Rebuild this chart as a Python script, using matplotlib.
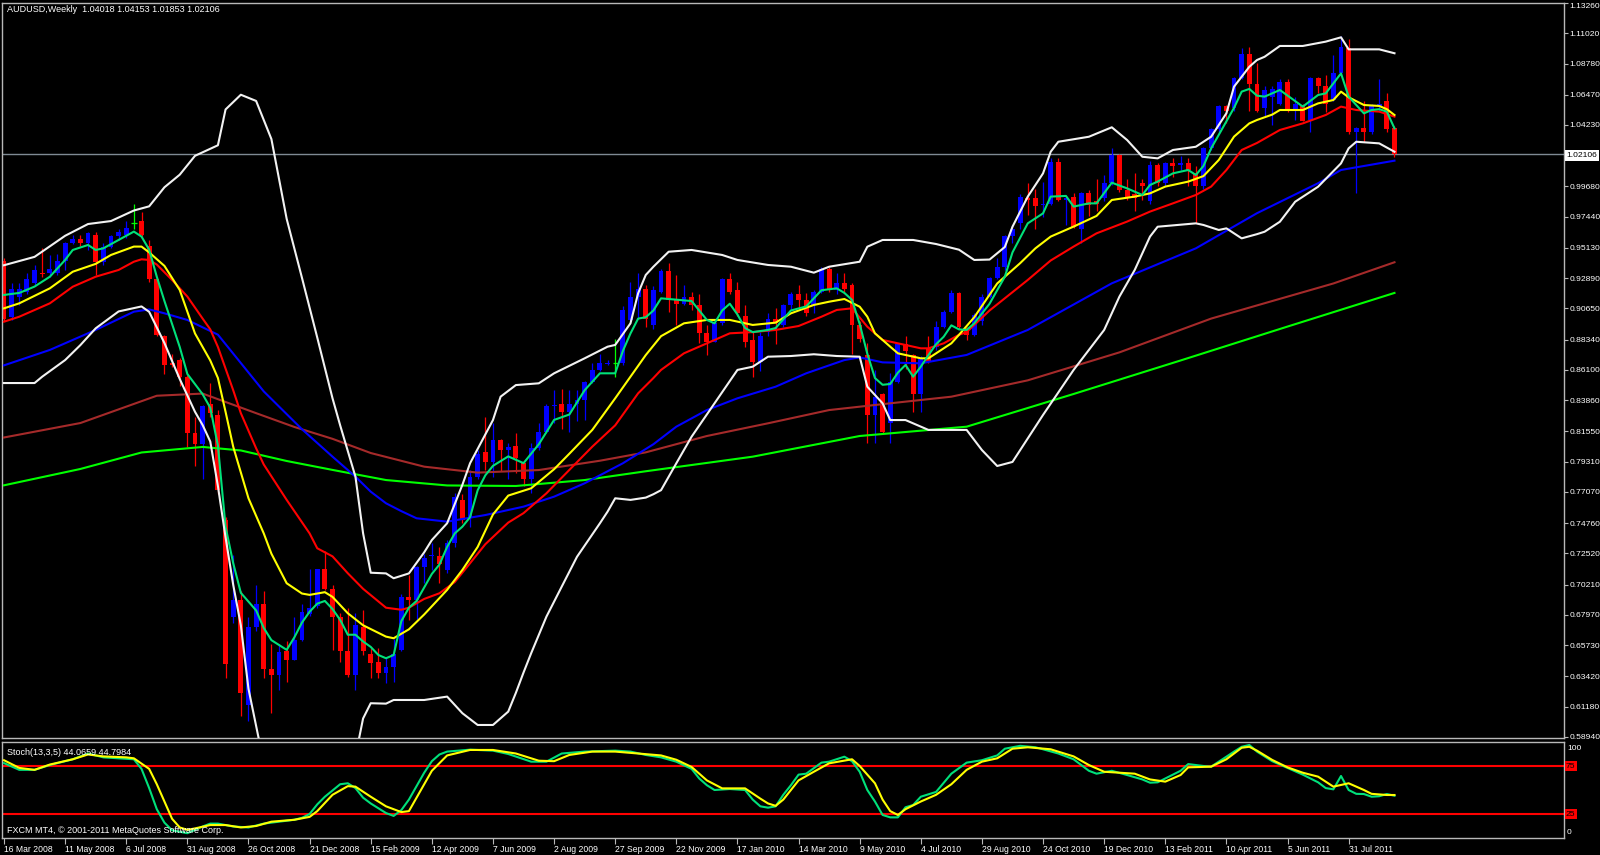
import matplotlib
matplotlib.use("Agg")
import matplotlib.pyplot as plt
import numpy as np

plt.rcParams['font.family'] = ['Liberation Sans', 'DejaVu Sans']

# ---------------- data: weekly AUDUSD candles (week 0 = 16 Mar 2008) ----------------
opens = [
0.942,0.900,0.915,0.919,0.925,0.933,0.933,0.933,0.942,0.955,
0.958,0.955,0.961,0.941,0.952,0.960,0.961,0.970,0.971,0.953,
0.928,0.886,0.866,0.868,0.856,0.8145,0.806,0.836,0.828,0.750,
0.678,0.691,0.613,0.671,0.688,0.640,0.635,0.653,0.646,0.661,
0.680,0.686,0.714,0.699,0.678,0.653,0.635,0.671,0.651,0.645,
0.637,0.641,0.654,0.693,0.691,0.715,0.723,0.723,0.713,0.733,
0.765,0.752,0.782,0.800,0.793,0.809,0.802,0.805,0.792,0.780,
0.803,0.815,0.834,0.836,0.830,0.836,0.839,0.852,0.861,0.8655,
0.866,0.866,0.898,0.915,0.921,0.894,0.919,0.934,0.913,0.910,
0.915,0.909,0.888,0.882,0.896,0.928,0.920,0.901,0.883,0.867,
0.889,0.899,0.894,0.909,0.917,0.913,0.909,0.919,0.936,0.920,
0.925,0.924,0.894,0.872,0.828,0.843,0.822,0.852,0.880,0.872,
0.843,0.877,0.878,0.893,0.904,0.918,0.892,0.887,0.897,0.915,
0.929,0.937,0.960,0.970,0.988,0.988,0.983,0.984,1.015,0.987,
0.989,0.965,0.992,0.986,0.988,0.999,1.020,0.994,0.991,0.999,
0.986,1.013,0.999,1.014,1.013,1.014,1.007,0.997,1.025,1.039,
1.056,1.055,1.077,1.095,1.073,1.055,1.063,1.058,1.074,1.053,
1.057,1.046,1.077,1.071,1.061,1.081,1.099,1.037,1.040,1.037,
1.056,1.060,1.04018]

highs = [
0.944,0.925,0.925,0.933,0.939,0.951,0.946,0.947,0.956,0.961,
0.961,0.963,0.963,0.955,0.961,0.965,0.971,0.984,0.978,0.957,
0.929,0.887,0.873,0.870,0.857,0.826,0.835,0.851,0.831,0.752,
0.724,0.697,0.678,0.702,0.697,0.658,0.658,0.660,0.678,0.688,
0.714,0.714,0.727,0.702,0.681,0.685,0.681,0.683,0.655,0.655,
0.648,0.662,0.695,0.709,0.716,0.725,0.733,0.730,0.735,0.770,
0.769,0.787,0.802,0.826,0.822,0.810,0.807,0.814,0.793,0.807,
0.822,0.836,0.846,0.847,0.846,0.846,0.853,0.866,0.873,0.868,
0.884,0.908,0.926,0.9325,0.924,0.923,0.936,0.940,0.931,0.924,
0.919,0.917,0.894,0.898,0.929,0.933,0.926,0.909,0.889,0.889,
0.903,0.907,0.910,0.919,0.924,0.918,0.920,0.937,0.937,0.933,
0.933,0.925,0.897,0.881,0.861,0.844,0.859,0.881,0.886,0.873,
0.871,0.886,0.897,0.905,0.920,0.919,0.893,0.903,0.917,0.930,
0.944,0.961,0.968,0.991,0.999,0.995,1.000,1.018,1.018,0.989,
0.992,0.993,0.994,1.002,1.005,1.025,1.021,1.002,1.007,1.002,
1.016,1.014,1.015,1.018,1.019,1.018,1.012,1.026,1.040,1.057,
1.057,1.078,1.099,1.100,1.088,1.071,1.071,1.076,1.076,1.063,
1.058,1.078,1.078,1.079,1.094,1.108,1.106,1.041,1.060,1.058,
1.076,1.066,1.04153]

lows = [
0.897,0.898,0.909,0.917,0.923,0.930,0.930,0.931,0.935,0.954,
0.953,0.950,0.931,0.939,0.951,0.957,0.959,0.965,0.960,0.926,
0.886,0.858,0.863,0.849,0.804,0.790,0.780,0.826,0.769,0.633,
0.674,0.605,0.601,0.668,0.633,0.607,0.624,0.630,0.646,0.660,
0.679,0.685,0.698,0.654,0.645,0.634,0.624,0.650,0.633,0.633,
0.629,0.630,0.653,0.676,0.677,0.703,0.713,0.703,0.711,0.730,
0.748,0.745,0.780,0.787,0.782,0.786,0.780,0.785,0.775,0.770,
0.802,0.814,0.822,0.817,0.815,0.823,0.824,0.851,0.860,0.865,
0.856,0.865,0.897,0.899,0.893,0.891,0.918,0.904,0.894,0.909,
0.905,0.881,0.872,0.882,0.894,0.917,0.901,0.878,0.856,0.860,
0.886,0.880,0.893,0.905,0.905,0.901,0.903,0.918,0.919,0.917,
0.918,0.873,0.882,0.807,0.807,0.814,0.807,0.851,0.862,0.830,
0.830,0.866,0.876,0.892,0.903,0.891,0.883,0.886,0.894,0.914,
0.928,0.935,0.955,0.965,0.976,0.965,0.974,0.983,0.986,0.968,
0.966,0.955,0.975,0.979,0.986,0.998,0.993,0.987,0.979,0.987,
0.984,0.997,0.997,1.004,1.009,0.997,0.970,0.995,1.024,1.037,
1.044,1.053,1.076,1.053,1.052,1.049,1.042,1.057,1.052,1.046,
1.045,1.037,1.066,1.052,1.060,1.079,1.036,0.992,1.030,1.036,
1.053,1.037,1.01853]

closes = [
0.899,0.921,0.921,0.928,0.935,0.932,0.936,0.942,0.955,0.958,
0.955,0.962,0.941,0.952,0.960,0.963,0.966,0.970,0.961,0.928,
0.887,0.865,0.865,0.856,0.814,0.806,0.834,0.829,0.772,0.643,
0.691,0.622,0.671,0.688,0.640,0.635,0.652,0.646,0.661,0.682,
0.685,0.714,0.699,0.678,0.653,0.635,0.672,0.653,0.644,0.637,
0.641,0.651,0.693,0.691,0.715,0.722,0.724,0.717,0.733,0.767,
0.750,0.782,0.799,0.793,0.809,0.802,0.804,0.796,0.780,0.803,
0.815,0.834,0.835,0.830,0.836,0.839,0.852,0.861,0.866,0.866,
0.866,0.905,0.915,0.921,0.899,0.920,0.934,0.913,0.910,0.915,
0.909,0.888,0.882,0.896,0.928,0.919,0.903,0.882,0.867,0.886,
0.899,0.896,0.909,0.917,0.913,0.903,0.919,0.936,0.920,0.925,
0.921,0.894,0.884,0.828,0.841,0.815,0.852,0.880,0.875,0.843,
0.870,0.867,0.893,0.904,0.918,0.893,0.887,0.902,0.915,0.929,
0.937,0.960,0.965,0.989,0.987,0.982,0.984,1.015,0.987,0.988,
0.967,0.992,0.983,0.984,0.999,1.020,0.994,0.989,0.988,0.997,
1.013,0.999,1.014,1.012,1.014,1.009,0.997,1.025,1.039,1.056,
1.053,1.077,1.095,1.073,1.053,1.068,1.069,1.074,1.053,1.058,
1.045,1.077,1.071,1.058,1.081,1.100,1.037,1.040,1.037,1.057,
1.058,1.039,1.02106]

# ---------------- indicator lines (week index, price) ----------------
teal_w = [0, 2, 4, 6, 8, 9, 11, 12, 13, 15,
          17, 18, 19, 20, 21, 22, 23, 24, 26, 27,
          28, 29, 30, 31, 32, 33, 34, 35, 37, 38,
          39, 40, 41, 42, 43, 44, 45, 46, 47, 48,
          49, 50, 51, 52, 53, 54, 55, 56, 57, 58,
          59, 60, 61, 62, 63, 64, 66, 68, 70, 72,
          74, 76, 78, 80, 81, 82, 83, 84, 85, 86,
          88, 90, 91, 92, 93, 94, 95, 96, 97, 98,
          100, 101, 103, 105, 107, 109, 110, 111, 112, 113,
          114, 115, 116, 117, 118, 119, 120, 121, 122, 123,
          124, 125, 126, 127, 129, 131, 132, 134, 136, 137,
          139, 140, 142, 143, 145, 147, 149, 150, 151, 153,
          155, 156, 157, 158, 159, 160, 161, 162, 163, 164,
          165, 167, 169, 170, 172, 173, 175, 176, 178, 179,
          180, 181, 182]
teal_v = [0.9165, 0.918, 0.9227, 0.930, 0.9424, 0.9498, 0.9535, 0.9498, 0.951, 0.9572,
          0.9634, 0.9597, 0.950, 0.930, 0.912, 0.895, 0.878, 0.858, 0.843, 0.833,
          0.805, 0.745, 0.718, 0.696, 0.6895, 0.683, 0.670, 0.661, 0.6538, 0.663,
          0.674, 0.682, 0.688, 0.690, 0.684, 0.676, 0.665, 0.665, 0.660, 0.656,
          0.650, 0.6476, 0.650, 0.675, 0.685, 0.690, 0.700, 0.710, 0.717, 0.730,
          0.740, 0.745, 0.752, 0.772, 0.783, 0.790, 0.797, 0.792, 0.806, 0.824,
          0.828, 0.846, 0.8585, 0.8585, 0.875, 0.888, 0.899, 0.900, 0.905, 0.914,
          0.913, 0.912, 0.905, 0.898, 0.8955, 0.905, 0.910, 0.902, 0.892, 0.889,
          0.8906, 0.892, 0.905, 0.908, 0.920, 0.9214, 0.918, 0.9128, 0.895, 0.873,
          0.855, 0.850, 0.8506, 0.859, 0.8647, 0.856, 0.8634, 0.872, 0.880, 0.8856,
          0.894, 0.891, 0.8906, 0.8955, 0.910, 0.930, 0.948, 0.9695, 0.9769, 0.9893,
          0.9898, 0.9819, 0.9843, 0.9843, 0.9996, 0.9954, 0.9905, 0.9979, 1.0004, 1.0065,
          1.009, 1.0053, 1.012, 1.025, 1.035, 1.045, 1.055, 1.067, 1.069, 1.064,
          1.0633, 1.0682, 1.060, 1.0559, 1.0645, 1.0657, 1.0805, 1.0633, 1.0509, 1.0534,
          1.054, 1.0522, 1.0398]

yel_w = [0, 2, 6, 9, 12, 14, 17, 18, 19, 21,
         23, 25, 27, 28, 29, 30, 32, 34, 35, 37,
         39, 40, 42, 43, 45, 47, 50, 51, 53, 55,
         58, 60, 62, 64, 66, 69, 72, 74, 77, 80,
         82, 84, 86, 89, 92, 95, 98, 101, 103, 106,
         108, 110, 112, 113, 114, 116, 117, 120, 121, 124,
         125, 127, 130, 133, 135, 137, 140, 143, 145, 148,
         150, 152, 155, 157, 159, 161, 163, 164, 166, 167,
         170, 172, 174, 175, 176, 178, 180, 181, 182]
yel_v = [0.9066, 0.9103, 0.9214, 0.9337, 0.9395, 0.9461, 0.9523, 0.9523, 0.948, 0.938,
         0.9202, 0.888, 0.868, 0.855, 0.830, 0.8042, 0.766, 0.740, 0.725, 0.7031,
         0.6955, 0.6945, 0.6965, 0.693, 0.6809, 0.672, 0.6636, 0.6624, 0.669, 0.680,
         0.6982, 0.713, 0.730, 0.754, 0.768, 0.7734, 0.7875, 0.799, 0.8166, 0.840,
         0.856, 0.872, 0.886, 0.8955, 0.898, 0.898, 0.8943, 0.896, 0.9029, 0.9091,
         0.9115, 0.9135, 0.9078, 0.9004, 0.8881, 0.8782, 0.8733, 0.8696, 0.8696, 0.8807,
         0.887, 0.900, 0.925, 0.940, 0.951, 0.9597, 0.9671, 0.975, 0.9868, 0.9893,
         0.9917, 0.9967, 1.0004, 1.0045, 1.0164, 1.0337, 1.0435, 1.046, 1.050, 1.0534,
         1.0534, 1.0583, 1.0608, 1.067, 1.0628, 1.0571, 1.0564, 1.054, 1.0497]

red_w = [0, 2, 6, 9, 12, 15, 17, 18, 19, 20,
         22, 24, 26, 27, 28, 30, 31, 33, 34, 37,
         40, 41, 43, 45, 47, 50, 52, 53, 55, 57,
         59, 61, 63, 66, 68, 71, 74, 77, 80, 83,
         85, 86, 89, 92, 95, 98, 101, 104, 107, 109,
         111, 113, 115, 117, 120, 121, 123, 125, 126, 129,
         134, 137, 140, 143, 147, 150, 153, 156, 158, 160,
         162, 164, 167, 170, 173, 175, 177, 180, 182]
red_v = [0.8967, 0.9004, 0.9103, 0.9226, 0.930, 0.935, 0.9411, 0.9429, 0.9424, 0.939,
         0.9276, 0.9153, 0.899, 0.891, 0.878, 0.846, 0.829, 0.803, 0.791, 0.7648,
         0.740, 0.729, 0.723, 0.7105, 0.699, 0.685, 0.6835, 0.685, 0.6915, 0.6957,
         0.704, 0.7179, 0.732, 0.748, 0.755, 0.7697, 0.787, 0.8042, 0.820, 0.8437,
         0.855, 0.861, 0.8733, 0.8807, 0.8881, 0.889, 0.8906, 0.8935, 0.9004, 0.9054,
         0.9066, 0.893, 0.8832, 0.8807, 0.877, 0.877, 0.8807, 0.887, 0.889, 0.905,
         0.9276, 0.942, 0.9523, 0.9621, 0.9708, 0.9782, 0.9843, 0.9905, 0.9967, 1.009,
         1.0238, 1.029, 1.0386, 1.0435, 1.0497, 1.0559, 1.0534, 1.0522, 1.0485]

blue_w = [0, 6, 12, 17, 19, 21, 24, 28, 30, 34,
          39, 43, 46, 48, 50, 52, 54, 58, 63, 68,
          72, 76, 81, 85, 88, 92, 96, 101, 105, 110,
          112, 115, 120, 126, 134, 145, 156, 164, 172, 175,
          182]
blue_v = [0.8644, 0.8758, 0.8906, 0.9041, 0.9058, 0.9029, 0.898, 0.8871, 0.8731, 0.8451,
          0.8171, 0.7968, 0.782, 0.7709, 0.7623, 0.7565, 0.7512, 0.7487, 0.7536, 0.7598,
          0.7672, 0.7771, 0.7919, 0.806, 0.819, 0.8313, 0.840, 0.8486, 0.8585, 0.8683,
          0.8703, 0.8666, 0.8659, 0.8721, 0.8906, 0.9251, 0.951, 0.977, 0.9992, 1.009,
          1.0159]

brown_w = [0, 10, 20, 26, 33, 38, 43, 48, 55, 62, 70, 78, 84, 92, 100, 108, 116, 124,
           134, 146, 158, 166, 174, 182]
brown_v = [0.811, 0.8217, 0.8419, 0.8435, 0.829, 0.8188, 0.810, 0.7995, 0.7894, 0.785,
           0.7869, 0.7938, 0.800, 0.8121, 0.8215, 0.8313, 0.8363, 0.8412, 0.8533, 0.874,
           0.899, 0.912, 0.925, 0.9407]

lime_w = [0, 10, 18, 26, 31, 37, 43, 50, 58, 67, 76, 84, 98, 112, 126, 140, 154, 168, 182]
lime_v = [0.7756, 0.7877, 0.7999, 0.804, 0.8014, 0.7936, 0.787, 0.7795, 0.7755, 0.7751,
          0.7795, 0.786, 0.7968, 0.8121, 0.819, 0.8432, 0.868, 0.8931, 0.918]

bbu_w = [0, 4, 8, 11, 14, 17, 19, 21, 23, 25,
         28, 29, 31, 33, 35, 37, 39, 41, 43, 44,
         46, 47, 48, 50, 51, 53, 55, 56, 58, 60,
         61, 64, 65, 67, 70, 72, 76, 79, 80, 82,
         83, 84, 85, 87, 90, 94, 96, 100, 103, 106,
         108, 112, 113, 115, 119, 122, 125, 127, 129, 131,
         132, 134, 136, 137, 138, 142, 145, 147, 149, 151,
         153, 156, 158, 160, 161, 163, 164, 165, 167, 170,
         173, 175, 176, 180, 182]
bbu_v = [0.9385, 0.9447, 0.9603, 0.969, 0.9712, 0.979, 0.9821, 0.9962, 1.0055, 1.0195,
         1.0273, 1.0538, 1.0647, 1.0601, 1.0319, 0.9728, 0.9292, 0.885, 0.840, 0.820,
         0.782, 0.7401, 0.7109, 0.7104, 0.7068, 0.7104, 0.726, 0.7351, 0.7475, 0.776,
         0.7919, 0.8239, 0.8412, 0.8498, 0.8511, 0.8585, 0.8696, 0.8782, 0.8795, 0.8955,
         0.9177, 0.9313, 0.9374, 0.9485, 0.9498, 0.9461, 0.9424, 0.9387, 0.9374, 0.933,
         0.9374, 0.9411, 0.9522, 0.9572, 0.9572, 0.9542, 0.950, 0.9424, 0.9427, 0.952,
         0.967, 0.9893, 1.0065, 1.0225, 1.0299, 1.0336, 1.0406, 1.0312, 1.0188, 1.0176,
         1.0238, 1.0262, 1.0336, 1.051, 1.0707, 1.0854, 1.0904, 1.0928, 1.1008, 1.1008,
         1.104, 1.1072, 1.0983, 1.0983, 1.0954]

bbl_w = [0, 4, 5, 8, 10, 12, 15, 18, 19, 21,
         23, 25, 26, 27, 28, 29, 30, 31, 32, 34,
         36, 44, 46, 47, 48, 50, 51, 55, 58, 60,
         62, 64, 66, 67, 68, 69, 71, 73, 75, 78,
         79, 80, 82, 84, 85, 86, 88, 90, 93, 96,
         98, 100, 103, 106, 109, 112, 113, 115, 116, 118,
         121, 126, 128, 130, 132, 136, 140, 144, 146, 148,
         150, 151, 156, 157, 159, 160, 162, 164, 165, 167,
         169, 172, 175, 176, 177, 180, 182]
bbl_v = [0.8513, 0.8513, 0.856, 0.8683, 0.8794, 0.8918, 0.9043, 0.908, 0.904, 0.8809,
         0.8543, 0.830, 0.8202, 0.808, 0.775, 0.737, 0.702, 0.672, 0.625, 0.570,
         0.530, 0.530, 0.575, 0.603, 0.6143, 0.614, 0.6167, 0.6167, 0.6192, 0.6069,
         0.5982, 0.5982, 0.6081, 0.622, 0.637, 0.6513, 0.6784, 0.7006, 0.7227, 0.7475,
         0.7561, 0.766, 0.7648, 0.7665, 0.769, 0.772, 0.7919, 0.8116, 0.8363, 0.861,
         0.8634, 0.8708, 0.8713, 0.8726, 0.8713, 0.8708, 0.8486, 0.8363, 0.8239, 0.8239,
         0.8166, 0.8166, 0.8017, 0.7899, 0.7929, 0.8277, 0.861, 0.8906, 0.9153, 0.935,
         0.9597, 0.967, 0.9695, 0.9683, 0.9646, 0.9658, 0.9584, 0.9615, 0.9633, 0.9707,
         0.9855, 0.9966, 1.0139, 1.025, 1.0299, 1.0287, 1.0225]

# ---------------- stochastic (13,3,5) ----------------
k_w = [0,2,4,6,9,11,13,15,17,18, 19,20,21,22,24,26,27,28,30,32,
       34,36,38,39,40,41,42,44,45,46, 47,48,49,50,51,52,53,54,55,56,
       57,58,61,64,66,69,71,73,76,80, 82,84,86,88,90,91,92,93,95,97,
       98,99,100,101,102,103,104,105,107,108, 110,111,112,113,114,115,116,117,118,119,
       120,122,124,126,128,130,131,133,135,136, 138,140,142,143,145,147,149,150,151,152,
       154,155,157,158,160,161,162,163,164,166, 168,170,171,172,173,174,175,176,177,178,
       179,180,181,182]
k_v = [78,71,71,76,82,88,84,83,82,72, 52,30,16,8,5,12,15,15,12,11,
       15,17,19,21,25,35,43,56,57,52, 42,36,31,26,23,29,40,54,68,80,
       87,90,92,91,87.5,79.5,79.5,88,90,91, 90,86.5,84,79.5,72,62,55,50,51,50,
       40,33,31.6,33,45,55,66,67,78.5,79.5, 84.7,80,69,50,38,24,21.5,21.5,32,34.4,
       43,48,67,78.5,81,86,93,96,94.5,92.4, 88,82,70,67,70,65.6,61,57.6,58,62,
       70,77,75,74.3,84.7,90,95,96.9,90,80, 73,66,62,58,52,50.7,64.6,50,46,45.8,
       43,43.5,45.8,44.0659]
d_w = [0,2,4,6,9,11,13,16,17,19, 20,21,22,23,24,25,27,29,31,33,
       35,38,40,41,43,45,46,48,50,52, 53,54,56,58,61,64,67,70,72,74,
       77,80,83,86,88,90,92,94,97,99, 100,101,102,103,104,106,108,111,112,114,
       115,116,117,118,120,122,124,126,128,130, 132,134,137,140,142,144,146,148,150,152,
       154,155,158,160,162,163,164,166,168,170, 172,174,176,178,179,181,182]
d_v = [81,73,71,76.5,82,87,85,84,83,72, 56,38,20,11,8.5,10,13.5,13.5,11,12.5,
       17,19,22,28,45,54,53.5,43,33,27, 28,42,70,86,91.7,91.7,88,80.5,80,86.5,
       90,90,88,86,81.5,74,60,51.7,51.7,41, 36,33.5,40,50,60,69,77.8,82,75,57,
       40,28,24,30,38,45,56,71,79.5,83, 93,94.5,92.4,85,76,69,68,67,61,58.7,
       65.6,73.6,74.3,82,94,95,91,81.3,73.6,68, 63.9,53.5,57,50,46,44.8,44.7984]
stoch_levels = [75, 25]

# ---------------- axis labels ----------------
price_labels = ["1.13260", "1.11020", "1.08780", "1.06470", "1.04230", "0.99680",
                "0.97440", "0.95130", "0.92890", "0.90650", "0.88340", "0.86100",
                "0.83860", "0.81550", "0.79310", "0.77070", "0.74760", "0.72520",
                "0.70210", "0.67970", "0.65730", "0.63420", "0.61180", "0.58940"]
date_labels = ["16 Mar 2008", "11 May 2008", "6 Jul 2008", "31 Aug 2008", "26 Oct 2008",
               "21 Dec 2008", "15 Feb 2009", "12 Apr 2009", "7 Jun 2009", "2 Aug 2009",
               "27 Sep 2009", "22 Nov 2009", "17 Jan 2010", "14 Mar 2010", "9 May 2010",
               "4 Jul 2010", "29 Aug 2010", "24 Oct 2010", "19 Dec 2010", "13 Feb 2011",
               "10 Apr 2011", "5 Jun 2011", "31 Jul 2011"]
date_weeks = [0, 8, 16, 24, 32, 40, 48, 56, 64, 72, 80, 88, 96, 104, 112, 120,
              128, 136, 144, 152, 160, 168, 176]
last_price = 1.02106
title_text = "AUDUSD,Weekly  1.04018 1.04153 1.01853 1.02106"
stoch_text = "Stoch(13,3,5) 44.0659 44.7984"
copyright_text = "FXCM MT4, \u00a9 2001-2011 MetaQuotes Software Corp."

for a, b in [(teal_w, teal_v), (yel_w, yel_v), (red_w, red_v), (blue_w, blue_v),
             (brown_w, brown_v), (lime_w, lime_v), (bbu_w, bbu_v), (bbl_w, bbl_v),
             (k_w, k_v), (d_w, d_v)]:
    assert len(a) == len(b), (len(a), len(b))
assert len(opens) == len(highs) == len(lows) == len(closes)

# ---------------- layout ----------------
W, H = 1600, 855
fig = plt.figure(figsize=(W / 100, H / 100), dpi=100, facecolor='black')


def fx(x):
    return x / W


def fy(y):
    return 1 - y / H


X0, X1 = 2, 1564
Y_TOP, Y_MAIN_BOT = 3.0, 738.3
Y_SUB_TOP, Y_SUB_BOT = 741.7, 838.3
BAR_PX, BAR0_PX = 7.64, 4.0
XLIM = ((X0 - BAR0_PX) / BAR_PX, (X1 - BAR0_PX) / BAR_PX)
FRAME = '#B8B8B8'
FS = 6.5
FS_AX = 6.1

ax = fig.add_axes([fx(X0), fy(Y_MAIN_BOT), (X1 - X0) / W, (Y_MAIN_BOT - Y_TOP) / H])
ax2 = fig.add_axes([fx(X0), fy(Y_SUB_BOT), (X1 - X0) / W, (Y_SUB_BOT - Y_SUB_TOP) / H])

for a in (ax, ax2):
    a.set_facecolor('black')
    a.set_xlim(*XLIM)
    for s in a.spines.values():
        s.set_color(FRAME)
        s.set_linewidth(1.0)

ax.set_ylim(0.58834, 1.1326)
ax2.set_ylim(-0.3, 100.3)

# ---------------- candles ----------------
o = np.array(opens); h = np.array(highs); l = np.array(lows); c = np.array(closes)
idx = np.arange(len(o))
BLUE, RED, DOJI = '#0000FF', '#FF0000', '#00FF00'
cols = np.where(c > o, BLUE, np.where(c < o, RED, DOJI))
ax.vlines(idx, l, h, colors=cols, lw=0.9, zorder=2)
nd = c != o
bot = np.minimum(o, c)
hgt = np.maximum(np.abs(c - o), 0.0009)
ax.bar(idx[nd], hgt[nd], bottom=bot[nd], width=0.64, color=cols[nd], lw=0, zorder=2)
dj = ~nd
ax.hlines(c[dj], idx[dj] - 0.35, idx[dj] + 0.35, colors=DOJI, lw=0.9, zorder=2)

# ---------------- indicator lines ----------------
LW = 1.5
ax.plot(lime_w, lime_v, color='#00FF00', lw=LW, zorder=3)
ax.plot(brown_w, brown_v, color='#A52A2A', lw=LW, zorder=3)
ax.plot(blue_w, blue_v, color='#0000FF', lw=LW, zorder=3)
ax.plot(red_w, red_v, color='#FF0000', lw=LW, zorder=3)
ax.plot(yel_w, yel_v, color='#FFFF00', lw=LW, zorder=3)
ax.plot(teal_w, teal_v, color='#00E07A', lw=LW, zorder=3)
ax.plot(bbu_w, bbu_v, color='#F2F2F2', lw=LW, zorder=3)
ax.plot(bbl_w, bbl_v, color='#F2F2F2', lw=LW, zorder=3)

ax.axhline(last_price, color='#7F8A94', lw=1.0, zorder=1)

# price axis
ax.yaxis.tick_right()
ax.set_yticks([float(s) for s in price_labels])
ax.set_yticklabels(price_labels)
ax.tick_params(axis='y', direction='out', length=3, width=0.8, color=FRAME,
               labelcolor='white', labelsize=FS_AX, pad=1.2)
ax.get_yticklabels()[0].set_va('top')
ax.tick_params(axis='x', length=0, labelbottom=False)

fig.text(fx(1566.5), fy(155.5), f"{last_price:.5f}", color='black', fontsize=FS_AX,
         ha='left', va='center',
         bbox=dict(boxstyle='square,pad=0.18', fc='white', ec='none'))

# ---------------- stochastic panel ----------------
for lev in stoch_levels:
    ax2.axhline(lev, color='#FF0000', lw=1.5, zorder=1)
ax2.plot(k_w, k_v, color='#00E07A', lw=1.5, zorder=3)
ax2.plot(d_w, d_v, color='#FFFF00', lw=1.5, zorder=3)
ax2.set_yticks([])
ax2.set_xticks(date_weeks)
ax2.set_xticklabels(date_labels, ha='left')
ax2.tick_params(axis='x', direction='out', length=4, width=0.8, color=FRAME,
                labelcolor='white', labelsize=6.2, pad=1.0)

fig.text(fx(1567), fy(748.5), "100", color='white', fontsize=FS_AX, ha='left', va='center')
fig.text(fx(1567), fy(832), "0", color='white', fontsize=FS_AX, ha='left', va='center')
for lev, yy in zip(stoch_levels, [766, 814]):
    fig.text(fx(1566), fy(yy), str(lev), color='black', fontsize=FS_AX, ha='left', va='center',
             bbox=dict(boxstyle='square,pad=0.12', fc='#FF0000', ec='none'))

fig.text(fx(7), fy(9), title_text, color='white', fontsize=FS, ha='left', va='center')
fig.text(fx(7), fy(752), stoch_text, color='white', fontsize=FS, ha='left', va='center')
fig.text(fx(7), fy(830), copyright_text, color='white', fontsize=FS, ha='left', va='center')

fig.savefig('out.png', dpi=100, facecolor='black')
